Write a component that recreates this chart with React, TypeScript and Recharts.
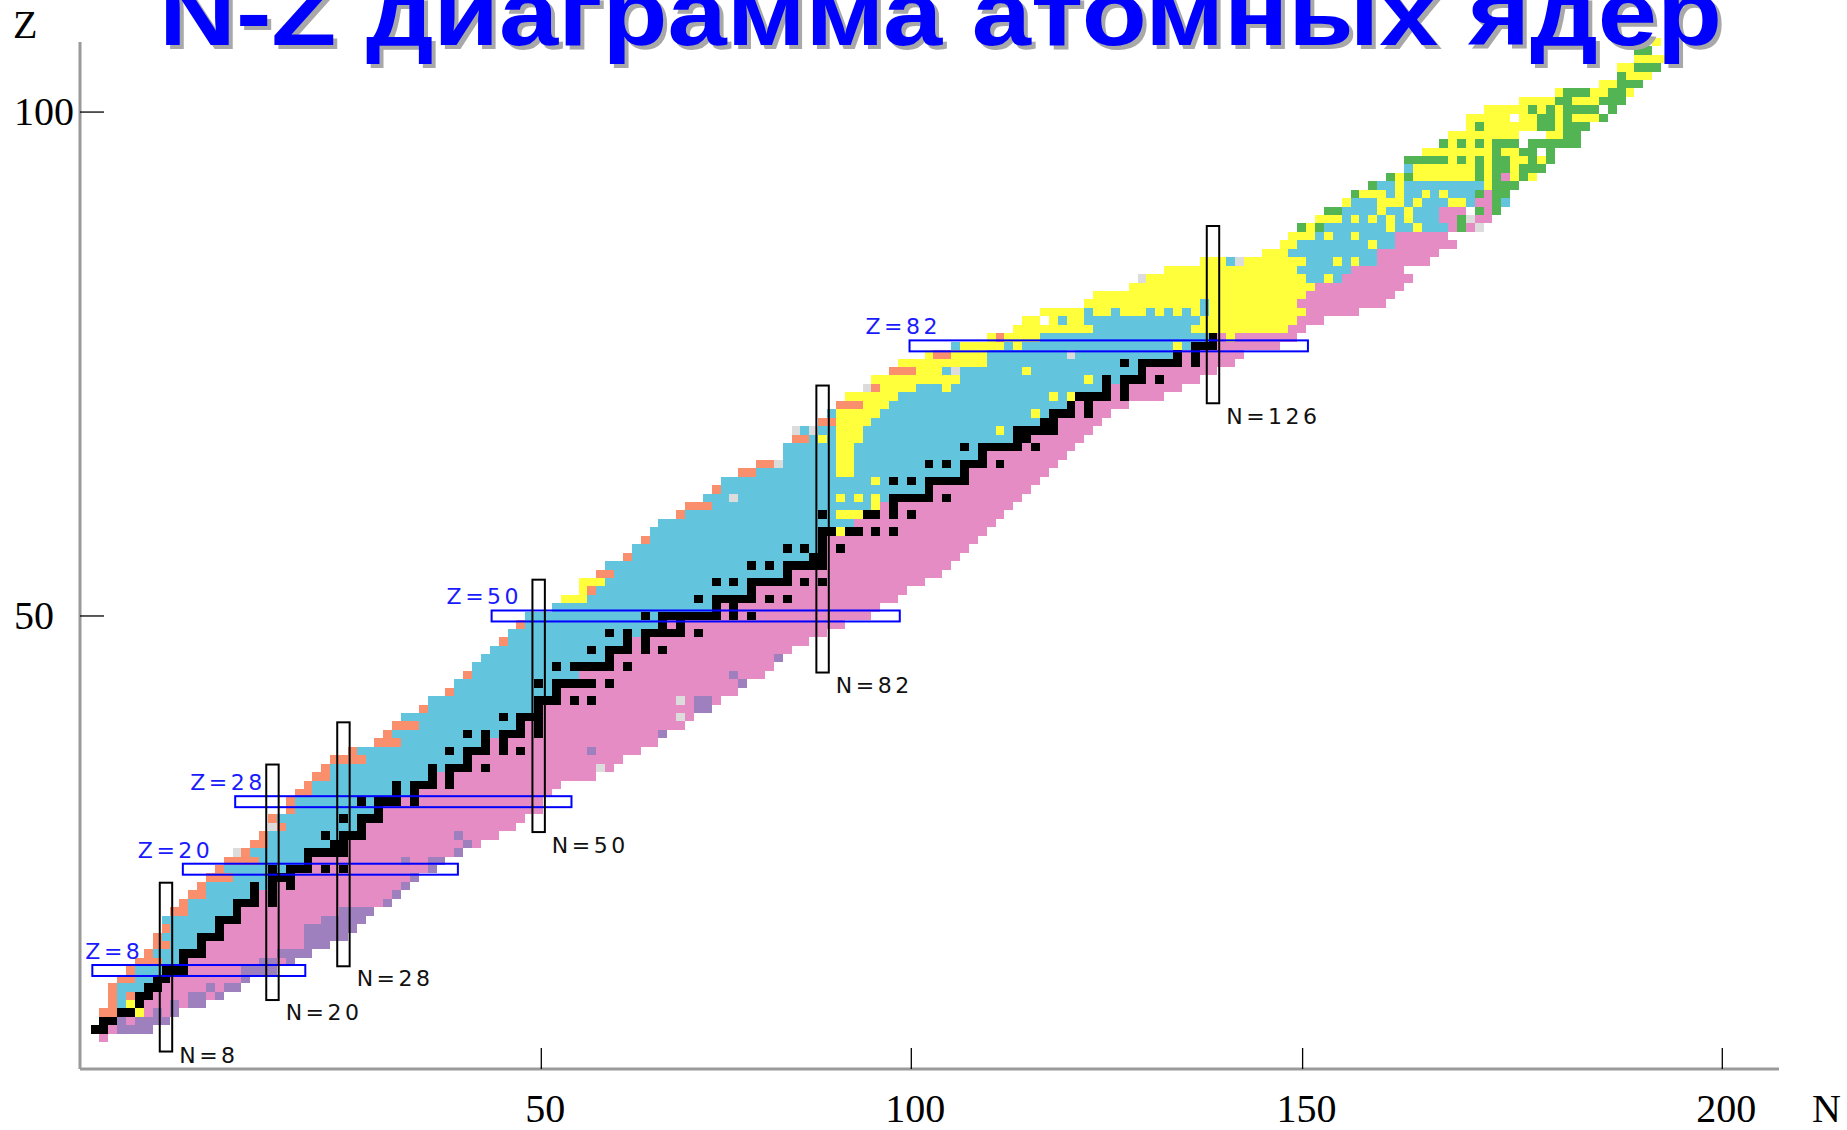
import React from "react";
import { ComposedChart, Scatter, XAxis, YAxis } from "recharts";

const WIDTH = 1847;
const HEIGHT = 1130;
// plot area: x 80..1779, y 42..1069 (axes take the outer strips)
const MARGIN = { top: 42, right: 68, bottom: 1, left: 1 };
const X_AXIS_H = 60;
const Y_AXIS_W = 79;
const N_DOMAIN: [number, number] = [-1.69, 189.79];
const Z_DOMAIN: [number, number] = [-3.67, 118];
const CELL_W = (WIDTH - MARGIN.left - Y_AXIS_W - MARGIN.right) / (N_DOMAIN[1] - N_DOMAIN[0]);
const CELL_H = (HEIGHT - MARGIN.top - MARGIN.bottom - X_AXIS_H) / (Z_DOMAIN[1] - Z_DOMAIN[0]);

const COLORS = {
  plus: "#63C4DD",
  minus: "#E58CC4",
  alpha: "#FFFF3C",
  proton: "#FA8F6E",
  neutron: "#9E80BF",
  fission: "#52B452",
  unknown: "#DCDCDC",
  gap: "#FFFFFF",
  stable: "#000000",
};
const AXIS_COLOR = "#9a9a9a";

const TITLE = "N-Z диаграмма атомных ядер";

// ticks as printed on the picture (they do not follow the cell grid)
const X_TICK_POS = [50.3, 92.0, 136.1, 183.4];
const X_TICK_LABELS = ["50", "100", "150", "200"];
const Y_TICK_POS = [50, 109.7];
const Y_TICK_LABELS = ["50", "100"];

// per Z (index): lightest N, heaviest N, first beta-minus N
const FIRST_N = [
  1, 0, 1, 1, 2, 2, 2, 3, 4, 5,
  6, 7, 7, 8, 8, 9, 10, 11, 12, 13,
  14, 15, 17, 18, 19, 20, 20, 22, 22, 23,
  24, 25, 26, 27, 29, 32, 33, 34, 35, 37,
  38, 40, 41, 42, 43, 44, 45, 46, 47, 48,
  49, 52, 53, 55, 55, 57, 58, 60, 61, 62,
  63, 64, 66, 67, 69, 70, 71, 73, 75, 78,
  78, 79, 79, 82, 83, 84, 85, 87, 88, 90,
  91, 94, 97, 101, 104, 105, 107, 112, 113, 117,
  118, 121, 125, 132, 134, 135, 136, 138, 139, 141,
  142, 144, 146, 148, 148, 150, 152, 153, 155, 155,
  157, 161, 165, 170, 172, 172, 174, 174, 176,
];
const LAST_N = [
  1, 6, 8, 9, 12, 14, 16, 17, 20, 22,
  24, 26, 28, 29, 30, 31, 33, 34, 35, 36,
  38, 39, 41, 43, 45, 47, 48, 50, 50, 51,
  52, 56, 58, 59, 61, 63, 64, 66, 67, 69,
  70, 72, 73, 75, 76, 77, 78, 80, 82, 84,
  87, 88, 90, 91, 93, 95, 96, 97, 98, 99,
  100, 101, 102, 103, 104, 105, 106, 107, 108, 109,
  110, 111, 112, 113, 114, 116, 120, 122, 124, 126,
  128, 129, 133, 135, 136, 138, 142, 145, 146, 147,
  148, 147, 150, 151, 153, 152, 155, 157, 158, 159,
  159, 160, 162, 163, 164, 164, 167, 167, 168, 170,
  171, 172, 173, 174, 175, 176, 177, 175, 176,
];
const SPLIT_N = [
  1, 2, 3, 5, 6, 7, 8, 9, 11, 11,
  13, 13, 15, 15, 17, 17, 19, 19, 21, 21,
  25, 25, 29, 29, 31, 31, 33, 33, 35, 37,
  39, 39, 43, 43, 45, 45, 49, 49, 51, 51,
  53, 53, 57, 55, 59, 59, 61, 61, 67, 65,
  71, 71, 75, 75, 79, 79, 83, 83, 83, 83,
  87, 86, 89, 89, 95, 95, 99, 99, 101, 101,
  105, 105, 109, 109, 111, 111, 115, 115, 119, 119,
  123, 123, 127, 127, 135, 136, 137, 136, 137, 138,
  141, 142, 145, 145, 147, 147, 153, 152, 152, 156,
  157, 161, 163, 164, 165, 165, 168, 168, 169, 171,
  172, 173, 174, 175, 176, 177, 178, 176, 177,
];

const STABLE_N: number[][] = [
  [], [0, 1], [1, 2], [3, 4], [5], [5, 6], [6, 7], [7, 8], [8, 9, 10], [10],
  [10, 11, 12], [12], [12, 13, 14], [14], [14, 15, 16], [16], [16, 17, 18, 20], [18, 20], [18, 20, 22], [20, 21, 22],
  [20, 22, 23, 24, 26, 28], [24], [24, 25, 26, 27, 28], [27, 28], [26, 28, 29, 30], [30], [28, 30, 31, 32], [32], [30, 32, 33, 34, 36], [34, 36],
  [34, 36, 37, 38, 40], [38, 40], [38, 40, 41, 42, 44], [42], [40, 42, 43, 44, 46, 48], [44, 46], [42, 44, 46, 47, 48, 50], [48, 50], [46, 48, 49, 50], [50],
  [50, 51, 52, 54, 56], [52], [50, 52, 53, 54, 55, 56, 58], [], [52, 54, 55, 56, 57, 58, 60], [58], [56, 58, 59, 60, 62, 64], [60, 62], [58, 60, 62, 63, 64, 65, 66, 68], [64, 66],
  [62, 64, 65, 66, 67, 68, 69, 70, 72, 74], [70, 72], [68, 70, 71, 72, 73, 74, 76, 78], [74], [70, 72, 74, 75, 76, 77, 78, 80, 82], [78], [74, 76, 78, 79, 80, 81, 82], [81, 82], [78, 80, 82, 84], [82],
  [82, 83, 85, 86, 88, 90], [], [82, 87, 88, 90, 92], [90], [90, 91, 92, 93, 94, 96], [94], [90, 92, 94, 95, 96, 97, 98], [98], [94, 96, 98, 99, 100, 102], [100],
  [98, 100, 101, 102, 103, 104, 106], [104, 105], [104, 105, 106, 107, 108], [107, 108], [108, 109, 110, 112], [110, 112], [111, 112, 113, 114, 116], [114, 116], [114, 116, 117, 118, 120], [118],
  [116, 118, 119, 120, 121, 122, 124], [122, 124], [124, 125, 126], [126],
];

// [Z, N from, N to]
const ALPHA: [number, number, number][] = [
  [3, 5, 5], [4, 4, 4], [52, 53, 55], [53, 55, 55], [54, 55, 57],
  [60, 84, 84], [62, 84, 86], [63, 88, 88], [64, 84, 84], [64, 86, 86], [64, 88, 88], [66, 88, 88],
  [67, 84, 85], [68, 84, 85], [69, 84, 85], [70, 84, 85], [71, 82, 82], [71, 84, 86], [72, 84, 86], [72, 102, 102],
  [73, 84, 87], [74, 84, 88], [74, 106, 106], [75, 87, 89], [76, 85, 90], [76, 108, 108], [76, 110, 110],
  [77, 89, 92], [77, 96, 96], [78, 88, 97], [78, 112, 112], [79, 93, 95], [79, 105, 105], [80, 91, 100],
  [81, 94, 94], [81, 97, 100], [82, 98, 102], [82, 104, 104], [82, 122, 122], [83, 101, 101], [83, 103, 106], [83, 128, 128],
  [84, 104, 112], [84, 124, 134], [85, 105, 111], [85, 125, 135], [86, 107, 136], [87, 112, 135], [88, 113, 136],
  [89, 117, 137], [90, 118, 136], [90, 139, 139], [91, 121, 135],
  [92, 125, 127], [92, 130, 136], [92, 140, 140], [92, 142, 142],
  [93, 132, 134], [94, 134, 135], [94, 144, 144],
  [95, 135, 137], [95, 139, 139], [95, 142, 142],
  [96, 137, 137], [96, 146, 146], [96, 149, 149],
  [97, 138, 140], [97, 142, 142], [97, 144, 144], [97, 146, 146], [97, 148, 148],
  [98, 145, 145], [98, 148, 148], [99, 141, 141], [99, 145, 147], [99, 149, 149], [99, 153, 154],
  [100, 143, 145], [100, 147, 147], [100, 150, 150], [100, 152, 152], [101, 147, 147], [101, 157, 157],
  [102, 147, 147], [102, 149, 155], [102, 157, 157], [102, 160, 160], [102, 162, 162],
  [103, 149, 155], [103, 157, 157], [103, 160, 160],
  [104, 153, 153], [104, 155, 155], [104, 157, 157], [104, 160, 161], [104, 163, 163],
  [105, 150, 157], [105, 159, 160], [106, 153, 153], [106, 155, 155], [106, 157, 157],
  [107, 153, 160], [107, 164, 165], [108, 155, 155], [108, 157, 162], [108, 165, 165],
  [109, 155, 159], [109, 161, 162], [109, 165, 165], [109, 167, 169],
  [110, 157, 161], [110, 163, 163], [110, 165, 165], [111, 161, 164], [111, 167, 169],
  [112, 165, 165], [112, 169, 170], [112, 173, 173], [113, 170, 171], [114, 173, 175],
  [115, 172, 173], [116, 174, 177], [118, 176, 176],
];
const PROTON: [number, number, number][] = [
  [3, 1, 2], [4, 2, 2], [5, 2, 2], [5, 4, 4], [6, 2, 2], [7, 3, 4], [8, 4, 4], [9, 5, 7], [10, 6, 6], [11, 7, 8],
  [12, 7, 7], [13, 8, 8], [15, 9, 10], [16, 10, 10], [17, 11, 12], [18, 12, 12], [19, 13, 15], [20, 14, 14],
  [21, 15, 18], [22, 17, 17], [23, 18, 19], [24, 19, 19], [25, 20, 21], [26, 20, 20], [27, 22, 22], [28, 22, 22],
  [29, 23, 24], [30, 24, 24], [31, 25, 26], [32, 26, 26], [33, 27, 30], [34, 29, 29], [35, 32, 34], [36, 33, 33],
  [37, 34, 36], [39, 37, 37], [41, 40, 40], [43, 42, 42], [47, 46, 46], [49, 48, 48], [53, 56, 56], [55, 57, 58],
  [57, 60, 60], [59, 62, 62], [62, 66, 66], [63, 67, 69], [65, 70, 70], [67, 73, 74], [68, 75, 76], [71, 79, 80],
  [73, 82, 83], [75, 84, 86], [77, 88, 88], [79, 90, 92], [81, 95, 96], [83, 102, 102],
];
const NEUTRON: [number, number, number][] = [
  [1, 3, 6], [2, 3, 3], [2, 5, 8], [3, 7, 7], [3, 9, 9], [4, 9, 9], [4, 11, 12], [5, 11, 12], [5, 14, 14],
  [6, 13, 13], [6, 15, 16], [7, 17, 17], [8, 17, 20], [9, 19, 20], [9, 22, 22], [10, 21, 24], [11, 24, 26],
  [12, 24, 28], [13, 24, 29], [14, 26, 30], [15, 28, 31], [16, 33, 33], [17, 34, 34], [18, 35, 35], [19, 36, 36],
  [20, 38, 38], [21, 35, 35], [21, 38, 39], [22, 41, 41], [23, 42, 42], [24, 41, 41], [34, 56, 56], [36, 64, 64],
  [39, 68, 69], [40, 68, 69], [42, 73, 73], [43, 72, 72], [45, 77, 77],
];
const FISSION: [number, number, number][] = [
  [96, 136, 136], [96, 138, 138], [96, 154, 154], [97, 154, 154], [98, 139, 140], [98, 156, 156], [98, 158, 158],
  [99, 158, 158], [100, 142, 142], [100, 156, 156], [100, 158, 159], [101, 144, 144], [101, 158, 160],
  [102, 146, 146], [102, 148, 148], [102, 156, 156], [102, 158, 158], [102, 161, 161],
  [103, 156, 156], [103, 158, 159], [103, 161, 163],
  [104, 148, 152], [104, 154, 154], [104, 156, 156], [104, 158, 159], [104, 162, 162], [104, 164, 164],
  [105, 158, 158], [105, 161, 162], [105, 164, 164],
  [106, 152, 152], [106, 154, 154], [106, 156, 156], [106, 158, 160], [106, 162, 167],
  [107, 166, 167], [108, 156, 156], [108, 163, 164], [108, 166, 168],
  [109, 163, 164], [109, 166, 166], [109, 170, 170], [110, 162, 162], [110, 164, 164], [110, 166, 169], [110, 171, 171],
  [111, 165, 166], [111, 170, 172], [112, 166, 168], [112, 171, 172], [113, 172, 174], [114, 172, 172],
  [115, 174, 176], [117, 174, 175],
];
const UNKNOWN: [number, number, number][] = [
  [22, 16, 16], [25, 20, 20], [32, 57, 57], [38, 66, 66], [40, 66, 66], [64, 72, 72], [68, 77, 77], [72, 79, 79],
  [72, 81, 81], [77, 87, 87], [79, 97, 97], [81, 110, 110], [90, 118, 118], [92, 129, 129], [96, 156, 156], [97, 155, 155],
];
const EXTRA_PLUS: [number, number, number][] = [
  [85, 109, 109], [86, 112, 112], [86, 115, 115], [86, 119, 119], [86, 121, 121], [86, 123, 123], [86, 125, 125],
  [87, 125, 125], [99, 159, 159],
];
const EXTRA_MINUS: [number, number, number][] = [[102, 159, 159]];
const GAPS: [number, number, number][] = [
  [85, 107, 107], [98, 155, 155], [105, 163, 163], [106, 161, 161], [107, 161, 163], [109, 160, 160], [110, 170, 170],
];

// magic-number frames
const MAGIC_Z = [8, 20, 28, 50, 82];
const Z_BOX_FROM_N = [-0.3, 9.9, 15.8, 44.7, 91.8];
const Z_BOX_TO_N = [23.7, 40.9, 53.7, 90.7, 136.7];
const MAGIC_N = [8, 20, 28, 50, 82, 126];
const N_BOX_FROM_Z = [-1.6, 4.5, 8.5, 24.4, 43.3, 75.2];
const N_BOX_TO_Z = [18.4, 32.4, 37.4, 54.3, 77.3, 96.2];
const Z_LABEL_DX = [-7, -45, -45, -45, -44];
const N_LABEL_DY = [11, 20, 20, 21, 20, 21];

type Seg = [number, number, number];
type Cell = { n: number; z: number; span: number };

const toCells = (segs: Seg[]): Cell[] =>
  segs.map(([z, a, b]) => ({ n: (a + b) / 2, z, span: b - a + 1 }));

const basePlus: Seg[] = [];
const baseMinus: Seg[] = [];
FIRST_N.forEach((f, z) => {
  const l = LAST_N[z];
  const s = SPLIT_N[z];
  if (s > f) basePlus.push([z, f, Math.min(s - 1, l)]);
  if (s <= l) baseMinus.push([z, Math.max(s, f), l]);
});

const stableSegs: Seg[] = [];
STABLE_N.forEach((ns, z) => {
  ns.forEach((n) => {
    const last = stableSegs[stableSegs.length - 1];
    if (last && last[0] === z && last[2] === n - 1) last[2] = n;
    else stableSegs.push([z, n, n]);
  });
});

const LAYERS: { key: string; data: Cell[]; fill: string }[] = [
  { key: "plus", data: toCells(basePlus), fill: COLORS.plus },
  { key: "minus", data: toCells(baseMinus), fill: COLORS.minus },
  { key: "alpha", data: toCells(ALPHA), fill: COLORS.alpha },
  { key: "plus2", data: toCells(EXTRA_PLUS), fill: COLORS.plus },
  { key: "minus2", data: toCells(EXTRA_MINUS), fill: COLORS.minus },
  { key: "proton", data: toCells(PROTON), fill: COLORS.proton },
  { key: "neutron", data: toCells(NEUTRON), fill: COLORS.neutron },
  { key: "fission", data: toCells(FISSION), fill: COLORS.fission },
  { key: "unknown", data: toCells(UNKNOWN), fill: COLORS.unknown },
  { key: "gap", data: toCells(GAPS), fill: COLORS.gap },
  { key: "stable", data: toCells(stableSegs), fill: COLORS.stable },
];

const cellShape = (fill: string) => (p: any) => {
  const w = p.payload.span * CELL_W;
  return (
    <rect
      x={p.cx - w / 2}
      y={p.cy - CELL_H / 2}
      width={w}
      height={CELL_H}
      fill={fill}
      shapeRendering="crispEdges"
    />
  );
};

const zBoxes = MAGIC_Z.map((z, i) => ({
  n: (Z_BOX_FROM_N[i] + Z_BOX_TO_N[i]) / 2,
  z,
  w: Z_BOX_TO_N[i] - Z_BOX_FROM_N[i],
  h: 1.3,
  label: `Z=${z}`,
  dx: Z_LABEL_DX[i],
}));
const nBoxes = MAGIC_N.map((n, i) => ({
  n,
  z: (N_BOX_FROM_Z[i] + N_BOX_TO_Z[i]) / 2,
  w: 1.4,
  h: N_BOX_TO_Z[i] - N_BOX_FROM_Z[i],
  label: `N=${n}`,
  dy: N_LABEL_DY[i],
}));

const LABEL_FONT = {
  fontFamily: "DejaVu Sans",
  fontSize: 22,
  letterSpacing: 3.5,
};

const zBoxShape = (p: any) => {
  const w = p.payload.w * CELL_W;
  const h = p.payload.h * CELL_H;
  const x = p.cx - w / 2;
  const y = p.cy - h / 2;
  return (
    <g>
      <rect x={x} y={y} width={w} height={h} fill="none" stroke="#0000FF" strokeWidth={2} />
      <text x={x + p.payload.dx} y={y - 6} fill="#1a1aff" {...LABEL_FONT}>
        {p.payload.label}
      </text>
    </g>
  );
};

const nBoxShape = (p: any) => {
  const w = p.payload.w * CELL_W;
  const h = p.payload.h * CELL_H;
  const x = p.cx - w / 2;
  const y = p.cy - h / 2;
  return (
    <g>
      <rect x={x} y={y} width={w} height={h} fill="none" stroke="#000" strokeWidth={2} />
      <text x={x + w + 7} y={y + h + p.payload.dy} fill="#111" {...LABEL_FONT}>
        {p.payload.label}
      </text>
    </g>
  );
};

const renderXTick = (p: any) => {
  const i = X_TICK_POS.indexOf(p.payload.value);
  return (
    <g>
      <line x1={p.x} x2={p.x} y1={p.y} y2={p.y - 21} stroke="#000" strokeWidth={1.3} />
      <text x={p.x + 4} y={p.y + 53} textAnchor="middle" fontFamily="Liberation Serif" fontSize={40} fill="#000">
        {X_TICK_LABELS[i]}
      </text>
    </g>
  );
};

const renderYTick = (p: any) => {
  const i = Y_TICK_POS.indexOf(p.payload.value);
  return (
    <g>
      <line x1={p.x} x2={p.x + 24} y1={p.y} y2={p.y} stroke="#000" strokeWidth={1.3} />
      <text x={14} y={p.y + 13} textAnchor="start" fontFamily="Liberation Serif" fontSize={40} fill="#000">
        {Y_TICK_LABELS[i]}
      </text>
    </g>
  );
};

export default function App() {
  return (
    <div style={{ position: "absolute", left: 0, top: 0, width: WIDTH, height: HEIGHT, background: "#fff" }}>
      <ComposedChart width={WIDTH} height={HEIGHT} margin={MARGIN}>
        <XAxis
          type="number"
          dataKey="n"
          domain={N_DOMAIN}
          ticks={X_TICK_POS}
          interval={0}
          height={X_AXIS_H}
          tickSize={0}
          tickMargin={0}
          tickLine={false}
          axisLine={{ stroke: AXIS_COLOR, strokeWidth: 3 }}
          tick={renderXTick}
        />
        <YAxis
          type="number"
          dataKey="z"
          domain={Z_DOMAIN}
          ticks={Y_TICK_POS}
          interval={0}
          width={Y_AXIS_W}
          tickSize={0}
          tickMargin={0}
          tickLine={false}
          axisLine={{ stroke: AXIS_COLOR, strokeWidth: 3 }}
          tick={renderYTick}
        />
        {LAYERS.map((l) => (
          <Scatter key={l.key} data={l.data} shape={cellShape(l.fill)} isAnimationActive={false} />
        ))}
        <Scatter data={zBoxes} shape={zBoxShape} isAnimationActive={false} />
        <Scatter data={nBoxes} shape={nBoxShape} isAnimationActive={false} />
      </ComposedChart>
      <svg
        width={WIDTH}
        height={HEIGHT}
        style={{ position: "absolute", left: 0, top: 0, pointerEvents: "none" }}
      >
        <text
          x={163}
          y={49}
          fill="#a8a8a8"
          fontFamily="Liberation Sans"
          fontWeight="bold"
          fontSize={92}
          textLength={1563}
          lengthAdjust="spacingAndGlyphs"
        >
          {TITLE}
        </text>
        <text
          x={159}
          y={45}
          fill="#0000FF"
          fontFamily="Liberation Sans"
          fontWeight="bold"
          fontSize={92}
          textLength={1563}
          lengthAdjust="spacingAndGlyphs"
        >
          {TITLE}
        </text>
        <text x={13} y={38} fontFamily="Liberation Serif" fontSize={40} fill="#000">
          Z
        </text>
        <text x={1812} y={1122} fontFamily="Liberation Serif" fontSize={40} fill="#000">
          N
        </text>
      </svg>
    </div>
  );
}
